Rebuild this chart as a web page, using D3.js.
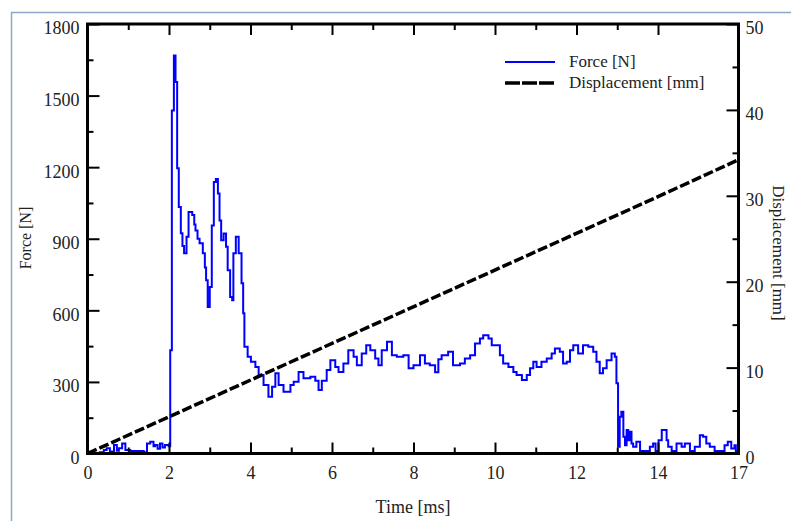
<!DOCTYPE html>
<html>
<head>
<meta charset="utf-8">
<script src="https://cdn.jsdelivr.net/npm/d3@7"></script>
<style>
  body { margin: 0; background: #fff; }
  text { font-family: "Liberation Serif", "Times New Roman", serif; fill: #222; }
</style>
</head>
<body>
<script>
// force trace (time in ms, force in N)
const forceTime = [0, 0.3, 0.4, 0.47, 0.55, 0.65, 0.72, 0.77, 0.85, 0.93, 1.05, 1.3, 1.38, 1.46, 1.54, 1.62, 1.66, 1.72, 1.78, 1.84, 1.9, 1.99,
    2.03, 2.07, 2.12, 2.16, 2.2, 2.24, 2.29, 2.33, 2.37, 2.43, 2.48, 2.57, 2.62, 2.65, 2.7, 2.75, 2.83, 2.88, 2.91, 2.95, 3.0,
    3.05, 3.1, 3.15, 3.2, 3.24, 3.28, 3.34, 3.4, 3.44, 3.5, 3.55, 3.58, 3.64, 3.71, 3.78, 3.82, 3.85, 3.93, 4.01, 4.12, 4.2,
    4.32, 4.44, 4.53, 4.61, 4.69, 4.81, 4.98, 5.06, 5.18, 5.3, 5.47, 5.59, 5.67, 5.75, 5.87, 5.96, 6.08, 6.16, 6.28, 6.4,
    6.53, 6.61, 6.73, 6.84, 6.94, 7.06, 7.14, 7.22, 7.35, 7.47, 7.59, 7.75, 7.88, 8.0, 8.16, 8.28, 8.4, 8.53, 8.61, 8.69,
    8.85, 8.97, 9.14, 9.26, 9.39, 9.51, 9.63, 9.71, 9.84, 9.92, 10.04, 10.12, 10.2, 10.33, 10.45, 10.53, 10.66, 10.78, 10.86,
    10.94, 11.02, 11.14, 11.27, 11.39, 11.47, 11.59, 11.67, 11.76, 11.84, 11.92, 12.04, 12.16, 12.29, 12.41, 12.49, 12.57,
    12.65, 12.74, 12.86, 12.94, 12.98, 13.02, 13.06, 13.1, 13.15, 13.19, 13.23, 13.27, 13.31, 13.35, 13.39, 13.47, 13.56,
    13.72, 13.8, 13.88, 13.94, 14.02, 14.14, 14.26, 14.32, 14.38, 14.51, 14.69, 14.88, 15.0, 15.19, 15.37, 15.56, 15.68,
    15.8, 15.93, 16.11, 16.3, 16.48, 16.6, 16.73, 16.85, 16.9, 17.0];
const forceValue = [0, 5, 15, 22, 8, 36, 12, 22, 42, 15, 10, 10, 5, 42, 49, 30, 36, 20, 42, 25, 36, 30,
    433, 1438, 1668, 1557, 1195, 1033, 923, 870, 839, 908, 1012, 1000, 960, 935, 900, 881, 839, 780, 726, 614, 698,
    956, 1138, 1150, 1090, 977, 894, 922, 866, 768, 656, 642, 839, 908, 839, 713, 588, 447, 405, 384, 363, 329,
    287, 238, 280, 336, 287, 259, 287, 301, 342, 315, 322, 305, 266, 305, 350, 391, 363, 342, 377, 433,
    405, 370, 419, 454, 433, 398, 370, 433, 468, 412, 405, 412, 357, 370, 412, 377, 370, 340, 395, 412,
    426, 370, 377, 398, 412, 461, 482, 496, 482, 454, 454, 412, 377, 363, 342, 329, 308, 329, 357,
    384, 363, 384, 398, 419, 440, 426, 377, 384, 433, 454, 419, 454, 447, 426, 384, 336,
    357, 391, 419, 405, 294, 28, 154, 175, 70, 35, 98, 56, 91, 42, 28, 49, 10,
    10, 28, 42, 10, 56, 98, 98, 56, 28, 10, 42, 28, 42, 10, 28, 77, 70,
    42, 28, 10, 10, 35, 49, 21, 35, 10, 10];

// displacement (mm)
const dispTime = [0, 14, 17];
const dispValue = [0, 29.9, 34.2];

// ticks
const xMajor = [0, 2, 4, 6, 8, 10, 12, 14, 17];
const xMinor = [1, 3, 5, 7, 9, 11, 13];
const yMajor = [0, 300, 600, 900, 1200, 1500, 1800];
const yMinor = [150, 450, 750, 1050, 1350, 1650];
const y2Major = [0, 10, 20, 30, 40, 50];
const y2Minor = [5, 15, 25, 35, 45];

const legendLabels = ["Force [N]", "Displacement [mm]"];

function main(){
    const width = 791;
    const height = 521;
    const left = 87.5, right = 738.5, top = 24, bottom = 453.5;

    const svg = d3.select("body").append("svg")
        .attr("width", width)
        .attr("height", height);

    // light outer frame
    svg.append("path")
        .attr("d", `M11.5,${height} L11.5,12.5 L${width},12.5`)
        .attr("fill", "none")
        .attr("stroke", "#8da6c6")
        .attr("stroke-width", 1.5);

    // the axis in the picture is squeezed after 14 ms
    const x = d3.scaleLinear().domain([0, 14, 17]).range([left, 658, right]);
    const y = d3.scaleLinear().domain([0, 1800]).range([bottom, top]);
    const y2 = d3.scaleLinear().domain([0, 50]).range([bottom, top]);

    const forceData = forceTime.map((t, i) => ({t: t, v: forceValue[i]}));
    const dispData = dispTime.map((t, i) => ({t: t, v: dispValue[i]}));

    svg.append("path")
        .datum(forceData)
        .attr("fill", "none")
        .attr("stroke", "#0000ff")
        .attr("stroke-width", 2)
        .attr("d", d3.line().curve(d3.curveStepAfter).x(d => x(d.t)).y(d => y(d.v)));

    svg.append("path")
        .datum(dispData)
        .attr("fill", "none")
        .attr("stroke", "#000")
        .attr("stroke-width", 3.5)
        .attr("stroke-dasharray", "10,3")
        .attr("d", d3.line().x(d => x(d.t)).y(d => y2(d.v)));

    // axes, ticks point inwards
    function styleAxis(g){
        g.select(".domain").remove();
        g.selectAll(".tick line").attr("stroke", "#000").attr("stroke-width", 2);
        g.selectAll(".tick text").style("font-size", "18px").attr("fill", "#222");
    }

    svg.append("g")
        .attr("transform", `translate(0,${bottom})`)
        .call(d3.axisBottom(x).tickValues(xMajor).tickSize(-11).tickPadding(13).tickFormat(d3.format("d")))
        .call(styleAxis);
    svg.append("g")
        .attr("transform", `translate(0,${bottom})`)
        .call(d3.axisBottom(x).tickValues(xMinor).tickSize(-6).tickFormat(""))
        .call(styleAxis);
    svg.append("g")
        .attr("transform", `translate(0,${top})`)
        .call(d3.axisTop(x).tickValues(xMajor).tickSize(-11).tickFormat(""))
        .call(styleAxis);
    svg.append("g")
        .attr("transform", `translate(0,${top})`)
        .call(d3.axisTop(x).tickValues(xMinor).tickSize(-6).tickFormat(""))
        .call(styleAxis);

    svg.append("g")
        .attr("transform", `translate(${left},0)`)
        .call(d3.axisLeft(y).tickValues(yMajor).tickSize(-12).tickPadding(8).tickFormat(d3.format("d")))
        .call(styleAxis)
        .selectAll(".tick text").attr("dy", "0.55em");
    svg.append("g")
        .attr("transform", `translate(${left},0)`)
        .call(d3.axisLeft(y).tickValues(yMinor).tickSize(-6).tickFormat(""))
        .call(styleAxis);

    svg.append("g")
        .attr("transform", `translate(${right},0)`)
        .call(d3.axisRight(y2).tickValues(y2Major).tickSize(-12).tickPadding(7).tickFormat(d3.format("d")))
        .call(styleAxis)
        .selectAll(".tick text").attr("dy", "0.55em");
    svg.append("g")
        .attr("transform", `translate(${right},0)`)
        .call(d3.axisRight(y2).tickValues(y2Minor).tickSize(-6).tickFormat(""))
        .call(styleAxis);

    svg.append("rect")
        .attr("x", left)
        .attr("y", top)
        .attr("width", right - left)
        .attr("height", bottom - top)
        .attr("fill", "none")
        .attr("stroke", "#000")
        .attr("stroke-width", 3);

    // axis titles
    svg.append("text")
        .attr("x", (left + right) / 2)
        .attr("y", 513)
        .attr("text-anchor", "middle")
        .style("font-size", "18px")
        .text("Time [ms]");

    svg.append("text")
        .attr("transform", "translate(31,238) rotate(-90)")
        .attr("text-anchor", "middle")
        .style("font-size", "16px")
        .text("Force [N]");

    svg.append("text")
        .attr("transform", "translate(773,253) rotate(90)")
        .attr("text-anchor", "middle")
        .style("font-size", "17px")
        .text("Displacement [mm]");

    // legend
    const legend = svg.append("g").attr("transform", "translate(505,62)");
    legend.append("line")
        .attr("x1", 0).attr("x2", 50).attr("y1", 0).attr("y2", 0)
        .attr("stroke", "#0000ff").attr("stroke-width", 2);
    legend.append("line")
        .attr("x1", 0).attr("x2", 50).attr("y1", 21).attr("y2", 21)
        .attr("stroke", "#000").attr("stroke-width", 3.5)
        .attr("stroke-dasharray", "15,2");
    legend.selectAll("text.lab")
        .data(legendLabels)
        .enter()
        .append("text")
        .attr("class", "lab")
        .attr("x", 64)
        .attr("y", (d, i) => i * 21 + 5)
        .style("font-size", "17px")
        .text(d => d);
}

main();
</script>
</body>
</html>
